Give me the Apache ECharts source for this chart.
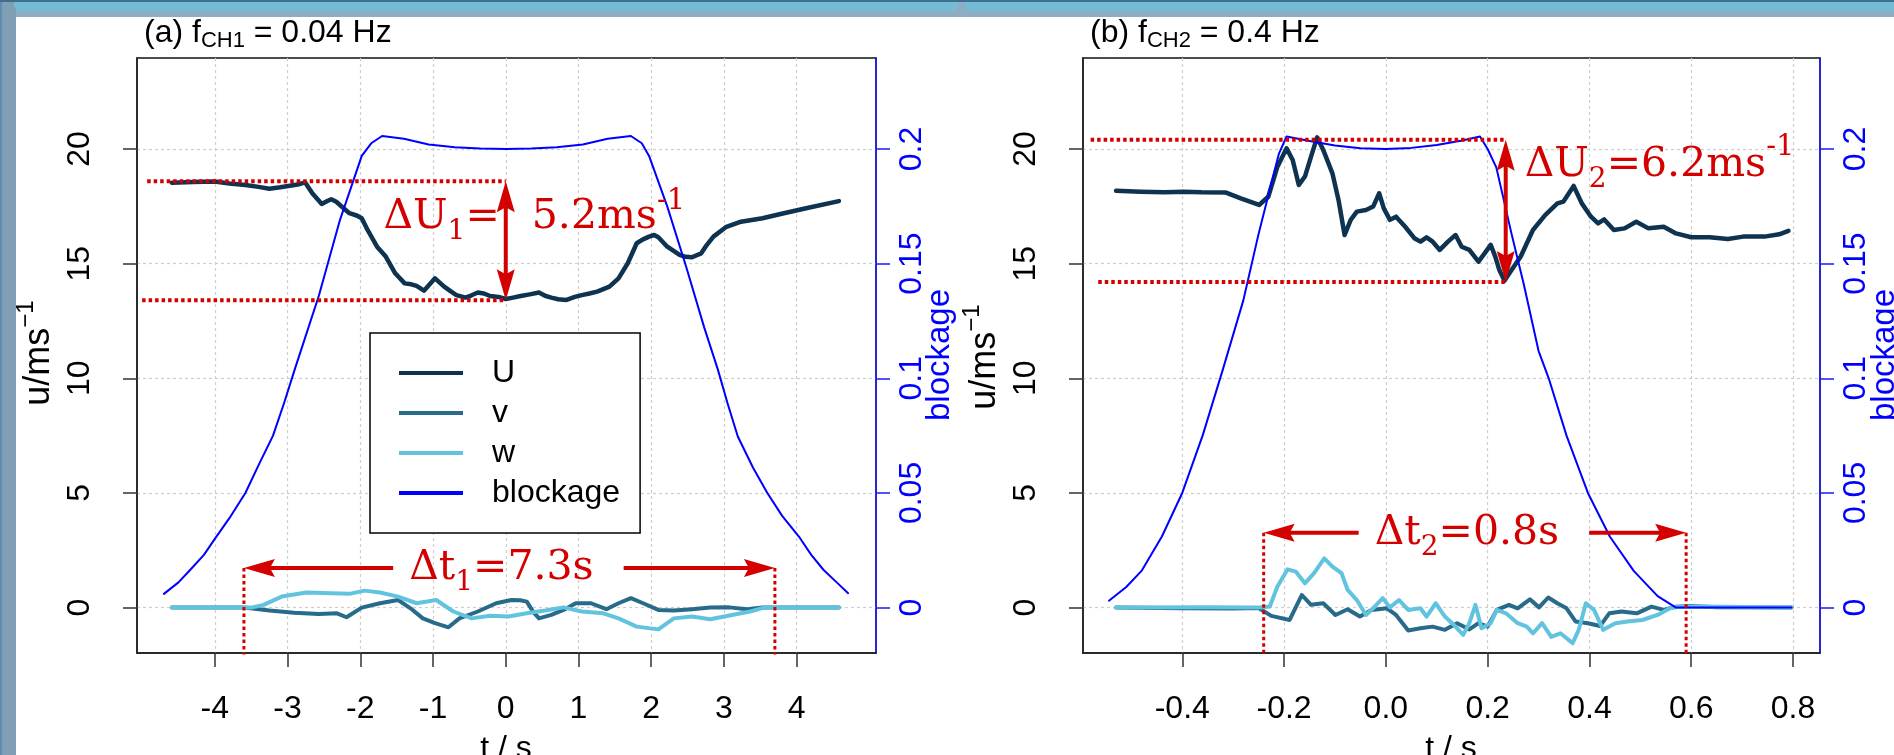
<!DOCTYPE html>
<html>
<head>
<meta charset="utf-8">
<script src="https://cdn.jsdelivr.net/npm/echarts@6/dist/echarts.min.js"></script>
<style>
  html, body { margin: 0; padding: 0; background: #ffffff; }
  #chart { width: 1894px; height: 755px; }
</style>
</head>
<body>
<div id="chart"></div>
<script>
// ---------------- tick values ----------------
const ticksTA = [-4, -3, -2, -1, 0, 1, 2, 3, 4];
const ticksTB = [-0.4, -0.2, 0, 0.2, 0.4, 0.6, 0.8];
const ticksU = [0, 5, 10, 15, 20];
const ticksBlock = [0, 0.05, 0.1, 0.15, 0.2];

// ---------------- panel (a): f_CH1 = 0.04 Hz ----------------
// [t / s, velocity / m s^-1]
const uA = [[-4.59,18.53],[-4.3,18.56],[-4.0,18.58],[-3.8,18.5],[-3.58,18.43],[-3.4,18.35],[-3.25,18.27],[-3.1,18.33],[-2.99,18.39],[-2.86,18.45],[-2.76,18.55],[-2.66,18.07],[-2.53,17.6],[-2.46,17.72],[-2.40,17.81],[-2.33,17.7],[-2.28,17.56],[-2.15,17.2],[-2.05,17.1],[-1.98,16.98],[-1.90,16.47],[-1.77,15.74],[-1.65,15.31],[-1.52,14.58],[-1.39,14.14],[-1.30,14.1],[-1.226,14.03],[-1.125,13.82],[-0.973,14.36],[-0.847,14.0],[-0.76,13.8],[-0.679,13.63],[-0.553,13.52],[-0.47,13.62],[-0.384,13.74],[-0.30,13.7],[-0.216,13.59],[-0.1,13.55],[0,13.46],[0.1,13.52],[0.205,13.59],[0.33,13.66],[0.457,13.74],[0.54,13.6],[0.626,13.52],[0.72,13.45],[0.836,13.42],[0.95,13.55],[1.046,13.63],[1.15,13.7],[1.256,13.78],[1.35,13.9],[1.425,14.0],[1.55,14.36],[1.677,15.02],[1.80,15.89],[1.88,16.05],[1.97,16.18],[2.04,16.25],[2.098,16.15],[2.22,15.74],[2.39,15.38],[2.47,15.3],[2.56,15.28],[2.687,15.45],[2.76,15.8],[2.855,16.18],[3.024,16.59],[3.234,16.83],[3.529,16.98],[3.823,17.2],[4.16,17.44],[4.58,17.73]];
const vA = [[-4.59,0],[-3.6,0],[-3.45,-0.05],[-3.25,-0.13],[-2.91,-0.22],[-2.57,-0.28],[-2.32,-0.25],[-2.19,-0.42],[-1.98,0],[-1.73,0.19],[-1.48,0.33],[-1.31,-0.03],[-1.14,-0.47],[-0.973,-0.68],[-0.788,-0.86],[-0.637,-0.47],[-0.384,-0.17],[-0.132,0.19],[0.078,0.33],[0.20,0.32],[0.289,0.26],[0.38,-0.2],[0.457,-0.47],[0.626,-0.32],[0.794,-0.10],[0.962,0.19],[1.172,0.19],[1.383,-0.07],[1.55,0.19],[1.72,0.41],[1.888,0.19],[2.098,-0.10],[2.31,-0.13],[2.56,-0.07],[2.81,0],[3.07,0.01],[3.32,-0.07],[3.53,0],[4.58,0]];
const wA = [[-4.59,0],[-3.5,0],[-3.33,0.12],[-3.08,0.48],[-2.74,0.66],[-2.40,0.63],[-2.15,0.60],[-1.94,0.74],[-1.73,0.66],[-1.48,0.48],[-1.226,0.19],[-0.957,0.33],[-0.721,-0.17],[-0.468,-0.47],[-0.216,-0.36],[0.036,-0.39],[0.289,-0.25],[0.542,-0.13],[0.794,0.01],[1.046,-0.17],[1.34,-0.25],[1.55,-0.47],[1.80,-0.83],[2.098,-0.95],[2.31,-0.47],[2.56,-0.39],[2.81,-0.51],[3.11,-0.32],[3.36,-0.17],[3.55,0],[4.58,0]];
// [t / s, blockage]
const blockA = [[-4.7,0.006],[-4.5,0.011],[-4.34,0.0164],[-4.15,0.023],[-4.0,0.030],[-3.8,0.039],[-3.58,0.050],[-3.4,0.062],[-3.2,0.075],[-3.05,0.089],[-2.9,0.104],[-2.57,0.136],[-2.28,0.169],[-1.98,0.197],[-1.85,0.2025],[-1.7,0.2057],[-1.4,0.2045],[-1.06,0.2020],[-0.7,0.2008],[-0.35,0.2002],[0,0.2000],[0.35,0.2002],[0.7,0.2008],[1.06,0.2020],[1.4,0.2045],[1.72,0.2057],[1.87,0.2025],[1.97,0.197],[2.22,0.175],[2.477,0.149],[2.73,0.122],[2.914,0.104],[3.05,0.089],[3.19,0.0746],[3.4,0.061],[3.596,0.05],[3.8,0.040],[4.03,0.031],[4.2,0.023],[4.37,0.0164],[4.55,0.011],[4.707,0.0063]];

// ---------------- panel (b): f_CH2 = 0.4 Hz ----------------
const uB = [[-0.53,18.18],[-0.482,18.14],[-0.434,18.11],[-0.398,18.14],[-0.362,18.11],[-0.314,18.10],[-0.285,17.85],[-0.249,17.56],[-0.231,17.92],[-0.213,19.23],[-0.195,20.03],[-0.183,19.52],[-0.171,18.43],[-0.159,18.80],[-0.145,19.81],[-0.135,20.51],[-0.123,19.96],[-0.105,18.94],[-0.093,17.78],[-0.081,16.25],[-0.069,16.91],[-0.057,17.27],[-0.039,17.34],[-0.025,17.49],[-0.013,18.07],[-0.004,17.41],[0.008,16.91],[0.020,17.05],[0.038,16.61],[0.056,16.11],[0.068,15.96],[0.080,16.15],[0.092,15.96],[0.106,15.60],[0.122,15.96],[0.137,16.25],[0.149,15.74],[0.164,15.60],[0.182,15.09],[0.194,15.45],[0.206,15.82],[0.215,15.31],[0.223,14.72],[0.233,14.26],[0.247,14.72],[0.265,15.31],[0.289,16.47],[0.313,17.12],[0.337,17.63],[0.349,17.71],[0.369,18.39],[0.385,17.63],[0.403,17.05],[0.417,16.76],[0.429,16.93],[0.448,16.47],[0.469,16.54],[0.492,16.83],[0.516,16.54],[0.546,16.61],[0.570,16.32],[0.600,16.15],[0.636,16.15],[0.672,16.08],[0.702,16.18],[0.744,16.18],[0.773,16.28],[0.791,16.43]];
const vB = [[-0.53,0],[-0.40,-0.03],[-0.30,-0.04],[-0.25,-0.02],[-0.225,-0.36],[-0.189,-0.54],[-0.165,0.55],[-0.147,0.12],[-0.123,0.19],[-0.099,-0.32],[-0.075,-0.07],[-0.051,-0.39],[-0.028,-0.10],[0.002,-0.03],[0.020,-0.32],[0.044,-1.0],[0.068,-0.90],[0.092,-0.83],[0.116,-0.97],[0.140,-0.68],[0.164,-0.95],[0.182,-0.68],[0.200,-0.83],[0.218,-0.10],[0.242,0.12],[0.259,-0.03],[0.283,0.36],[0.301,0.01],[0.319,0.44],[0.337,0.19],[0.355,-0.03],[0.373,-0.61],[0.397,-0.68],[0.421,-0.80],[0.439,-0.25],[0.463,-0.17],[0.493,-0.25],[0.522,0.04],[0.546,-0.10],[0.570,0.04],[0.600,0.07],[0.65,0.02],[0.797,0]];
const wB = [[-0.53,0],[-0.35,0.02],[-0.25,0],[-0.228,0.05],[-0.213,0.92],[-0.193,1.67],[-0.177,1.57],[-0.159,1.06],[-0.141,1.50],[-0.121,2.15],[-0.105,1.79],[-0.087,1.50],[-0.075,0.77],[-0.057,0.33],[-0.039,-0.32],[-0.022,0.04],[-0.006,0.41],[0.008,0.01],[0.026,0.33],[0.044,-0.10],[0.068,-0.03],[0.080,-0.39],[0.098,0.19],[0.116,-0.39],[0.134,-0.76],[0.152,-1.19],[0.164,-0.68],[0.176,0.12],[0.188,-0.90],[0.206,-0.68],[0.218,-0.10],[0.236,-0.25],[0.259,-0.68],[0.277,-0.83],[0.289,-1.12],[0.307,-0.68],[0.325,-1.28],[0.343,-1.12],[0.367,-1.55],[0.379,-0.97],[0.393,0.19],[0.409,-0.10],[0.427,-0.97],[0.451,-0.68],[0.475,-0.61],[0.504,-0.54],[0.534,-0.32],[0.558,-0.03],[0.576,0.04],[0.62,0.05],[0.797,0]];
const blockB = [[-0.544,0.003],[-0.51,0.009],[-0.48,0.016],[-0.44,0.031],[-0.40,0.050],[-0.36,0.075],[-0.32,0.104],[-0.28,0.134],[-0.25,0.163],[-0.225,0.185],[-0.21,0.198],[-0.195,0.2055],[-0.15,0.2035],[-0.10,0.2015],[-0.05,0.2003],[0,0.2000],[0.05,0.2005],[0.10,0.2018],[0.15,0.2037],[0.185,0.2055],[0.20,0.200],[0.217,0.192],[0.247,0.163],[0.271,0.141],[0.30,0.112],[0.32,0.100],[0.355,0.075],[0.397,0.050],[0.44,0.031],[0.487,0.016],[0.534,0.005],[0.57,0.000],[0.797,0.000]];

// ---------------- annotations ----------------
// velocity drop: [t of arrow, upper U, lower U, start t of upper guide, start t of lower guide]
const deltaUA = [0, 18.6, 13.4, -4.93, -5.0];
const deltaUB = [0.2355, 20.4, 14.2, -0.58, -0.565];
// passage duration: [start t, end t, velocity level of the arrow]
const deltaTA = [-3.6, 3.7, 1.73];
const deltaTB = [-0.24, 0.59, 3.26];

// ---------------- styling ----------------
const SANS = '"Liberation Sans", Arial, Helvetica, sans-serif';
const SERIF = '"DejaVu Serif", serif';
const RED = '#d40000';
const COL = { U: '#0e3350', v: '#276a89', w: '#62c3df', blockage: '#0000ff' };
const BLUE_AXIS = '#1a1aff';

const measureCtx = document.createElement('canvas').getContext('2d');
function textWidth(s, font) { measureCtx.font = font; return measureCtx.measureText(s).width; }

// Lay out a run of text pieces on one baseline; pieces are [text, size, baselineShift]
function textRun(pieces, x, baseline, align, family, color) {
  const items = pieces.map(p => {
    const font = p[1] + 'px ' + family;
    return { s: p[0], size: p[1], dy: p[2] || 0, font, w: textWidth(p[0], font) };
  });
  const total = items.reduce((a, it) => a + it.w, 0);
  let cx = align === 'center' ? x - total / 2 : (align === 'right' ? x - total : x);
  const els = items.map(it => {
    const el = {
      type: 'text', x: cx, y: baseline + it.dy - 0.35 * it.size,
      style: { text: it.s, font: it.font, fill: color, align: 'left', verticalAlign: 'middle' }
    };
    cx += it.w;
    return el;
  });
  return { els, total };
}

function arrowHead(tip, dx, dy) {
  const L = 31, W = 9, N = 5;
  const nx = -dy, ny = dx;
  return {
    type: 'polygon',
    shape: { points: [
      tip,
      [tip[0] - dx * L + nx * W, tip[1] - dy * L + ny * W],
      [tip[0] - dx * (L - N), tip[1] - dy * (L - N)],
      [tip[0] - dx * L - nx * W, tip[1] - dy * L - ny * W]
    ] },
    style: { fill: RED }
  };
}

function dotted(p1, p2, w) {
  return { type: 'line', shape: { x1: p1[0], y1: p1[1], x2: p2[0], y2: p2[1] },
           style: { stroke: RED, lineWidth: w, lineDash: [3.5, 3] } };
}

function solid(p1, p2) {
  return { type: 'line', shape: { x1: p1[0], y1: p1[1], x2: p2[0], y2: p2[1] },
           style: { stroke: RED, lineWidth: 4 } };
}

// Vertical double arrow with guide lines and the ΔU label
function deltaUGroup(api, d, idx, layout) {
  const [t, hi, lo, hiFrom, loFrom] = d;
  const pHi = api.coord([t, hi]), pLo = api.coord([t, lo]);
  const children = [
    dotted(api.coord([hiFrom, hi]), pHi, 4),
    dotted(api.coord([loFrom, lo]), pLo, 4),
    solid([pHi[0], pHi[1] + 20], [pLo[0], pLo[1] - 20]),
    arrowHead(pHi, 0, -1),
    arrowHead(pLo, 0, 1)
  ];
  const val = (hi - lo).toFixed(1);
  const mid = (pHi[1] + pLo[1]) / 2;
  const base = mid + layout.baseShift;
  if (layout.split) {
    const left = textRun([['\u0394U', 41], [idx, 28, 10], ['=', 41]], pHi[0] - 6, base, 'right', SERIF, RED);
    const right = textRun([[val + 'ms', 41], ['-1', 29, -20]], pHi[0] + 26, base, 'left', SERIF, RED);
    children.push(...left.els, ...right.els);
  } else {
    const run = textRun([['\u0394U', 41], [idx, 28, 10], ['=' + val + 'ms', 41], ['-1', 29, -22]], pHi[0] + 19, base, 'left', SERIF, RED);
    children.push(...run.els);
  }
  return { type: 'group', children };
}

// Horizontal double arrow with vertical guides and the Δt label
function deltaTGroup(api, d, idx, yBottom) {
  const [t0, t1, level] = d;
  const p0 = api.coord([t0, level]), p1 = api.coord([t1, level]);
  const val = (t1 - t0).toFixed(1);
  const cx = (p0[0] + p1[0]) / 2 - 8;
  const run = textRun([['\u0394t', 41], [idx, 28, 10], ['=' + val + 's', 41]], cx, p0[1] + 15, 'center', SERIF, RED);
  const tl = cx - run.total / 2, tr = cx + run.total / 2;
  const children = [
    dotted(p0, api.coord([t0, yBottom]), 3),
    dotted(p1, api.coord([t1, yBottom]), 3),
    solid([p0[0] + 20, p0[1]], [tl - 16, p0[1]]),
    solid([tr + 30, p1[1]], [p1[0] - 20, p1[1]]),
    arrowHead(p0, -1, 0),
    arrowHead(p1, 1, 0),
    ...run.els
  ];
  return { type: 'group', children };
}

// ---------------- axes ----------------
const GRID_Y = { top: 58, height: 595 };
const U_RANGE = [-1.98, 23.97];
const B_RANGE = [-0.0198, 0.2397];
const gridLine = { show: true, lineStyle: { color: '#cfcfcf', width: 1.2, type: [3, 3] } };

function xAxis(gridIndex, min, max, ticks, fmt) {
  return {
    type: 'value', gridIndex, min, max,
    axisLine: { show: true, onZero: false, lineStyle: { color: '#222', width: 1.5 } },
    axisTick: { show: true, inside: false, length: 14, customValues: ticks, lineStyle: { color: '#333', width: 1.5 } },
    axisLabel: { customValues: ticks, formatter: fmt, margin: 40, fontSize: 32, fontFamily: SANS, color: '#000' },
    splitLine: gridLine
  };
}
function yLeft(gridIndex) {
  return {
    type: 'value', gridIndex, position: 'left', min: U_RANGE[0], max: U_RANGE[1],
    axisLine: { show: true, onZero: false, lineStyle: { color: '#222', width: 1.5 } },
    axisTick: { show: true, inside: false, length: 14, customValues: ticksU, lineStyle: { color: '#333', width: 1.5 } },
    axisLabel: { customValues: ticksU, rotate: 90, margin: 41, fontSize: 32, fontFamily: SANS, color: '#000', formatter: v => String(v) },
    splitLine: gridLine
  };
}
function yRight(gridIndex) {
  return {
    type: 'value', gridIndex, position: 'right', min: B_RANGE[0], max: B_RANGE[1],
    axisLine: { show: true, onZero: false, lineStyle: { color: BLUE_AXIS, width: 1.5 } },
    axisTick: { show: true, inside: false, length: 14, customValues: ticksBlock, lineStyle: { color: BLUE_AXIS, width: 1.5 } },
    axisLabel: { customValues: ticksBlock, rotate: 90, margin: 20, fontSize: 32, fontFamily: SANS, color: '#0000ff', formatter: v => String(v) },
    splitLine: { show: false }
  };
}

function lineSeries(name, data, xi, yi, width) {
  return {
    type: 'line', name, data, xAxisIndex: xi, yAxisIndex: yi,
    showSymbol: false, symbol: 'none', color: COL[name],
    lineStyle: { color: COL[name], width, join: 'round', cap: 'round' }, itemStyle: { color: COL[name] },
    animation: false, clip: true, z: 3
  };
}

// ---------------- page decoration and titles ----------------
function titleRun(label, sub, rest, x) {
  return { type: 'group', children: textRun([[label, 32], [sub, 22, 5], [rest, 32]], x, 44, 'left', SANS, '#000').els };
}
// y-axis titles (rotated, reading upwards)
function yTitle(baselineX, centerY) {
  const run = textRun([['u/ms', 36], ['\u22121', 24, -17]], 0, 0, 'center', SANS, '#000');
  return { type: 'group', x: baselineX, y: centerY, rotation: Math.PI / 2, children: run.els };
}
function blockTitle(baselineX, centerY) {
  const run = textRun([['blockage', 33]], 0, 0, 'center', SANS, '#0000ff');
  return { type: 'group', x: baselineX, y: centerY, rotation: Math.PI / 2, children: run.els };
}

const graphics = [
  // slide frame
  { type: 'rect', shape: { x: 0, y: 0, width: 1894, height: 17 }, style: { fill: '#8eacc2' }, z: 1 },
  { type: 'rect', shape: { x: 14, y: 0, width: 944, height: 11, r: [0, 0, 6, 6] }, style: { fill: '#74bcd6' }, z: 2 },
  { type: 'rect', shape: { x: 965, y: 0, width: 929, height: 11, r: [0, 0, 0, 6] }, style: { fill: '#74bcd6' }, z: 2 },
  { type: 'rect', shape: { x: 0, y: 0, width: 1894, height: 2 }, style: { fill: '#3f6f8d' }, z: 3 },
  { type: 'rect', shape: { x: 0, y: 0, width: 16, height: 755 }, style: { fill: '#809fb5' }, z: 1 },
  { type: 'rect', shape: { x: 0, y: 0, width: 2, height: 755 }, style: { fill: '#5d8db0' }, z: 2 },
  // panel titles
  titleRun('(a) f', 'CH1', ' = 0.04 Hz', 144),
  titleRun('(b) f', 'CH2', ' = 0.4 Hz', 1090),
  // x-axis titles
  { type: 'group', children: textRun([['t / s', 32]], 506, 760, 'center', SANS, '#000').els },
  { type: 'group', children: textRun([['t / s', 32]], 1451, 760, 'center', SANS, '#000').els },
  yTitle(52, 353), yTitle(998, 357),
  blockTitle(951, 355), blockTitle(1896, 355)
];

// ---------------- chart ----------------
const chart = echarts.init(document.getElementById('chart'), null, { renderer: 'canvas' });
chart.setOption({
  animation: false,
  backgroundColor: '#ffffff',
  textStyle: { fontFamily: SANS },
  grid: [
    { left: 137, top: GRID_Y.top, width: 739, height: GRID_Y.height, show: true, borderColor: '#111', borderWidth: 1.5, backgroundColor: 'transparent', outerBoundsMode: 'none' },
    { left: 1083, top: GRID_Y.top, width: 737, height: GRID_Y.height, show: true, borderColor: '#111', borderWidth: 1.5, backgroundColor: 'transparent', outerBoundsMode: 'none' }
  ],
  xAxis: [
    xAxis(0, -5.07, 5.09, ticksTA, v => String(v)),
    xAxis(1, -0.595, 0.853, ticksTB, v => v.toFixed(1))
  ],
  yAxis: [yLeft(0), yRight(0), yLeft(1), yRight(1)],
  legend: {
    show: true, orient: 'vertical', left: 370, top: 333,
    padding: [20, 20, 20, 29], itemWidth: 64, itemHeight: 4, itemGap: 0, icon: 'rect',
    backgroundColor: '#ffffff', borderColor: '#000', borderWidth: 1.5, borderRadius: 0,
    textStyle: { fontSize: 32, fontFamily: SANS, color: '#000', lineHeight: 40, padding: [0, 0, 0, 24] },
    data: ['U', 'v', 'w', 'blockage'], selectedMode: false, z: 20
  },
  graphic: graphics,
  series: [
    lineSeries('U', uA, 0, 0, 4.5),
    lineSeries('v', vA, 0, 0, 4),
    lineSeries('w', wA, 0, 0, 4),
    lineSeries('blockage', blockA, 0, 1, 2),
    lineSeries('U', uB, 1, 2, 4.5),
    lineSeries('v', vB, 1, 2, 4),
    lineSeries('w', wB, 1, 2, 4),
    lineSeries('blockage', blockB, 1, 3, 2),
    {
      type: 'custom', name: 'annotations-a', xAxisIndex: 0, yAxisIndex: 0, data: [[0, 0]],
      silent: true, clip: false, z: 10, animation: false,
      renderItem: (p, api) => ({ type: 'group', children: [
        deltaUGroup(api, deltaUA, '1', { split: true, baseShift: -9 }),
        deltaTGroup(api, deltaTA, '1', -2.05)
      ] })
    },
    {
      type: 'custom', name: 'annotations-b', xAxisIndex: 1, yAxisIndex: 2, data: [[0, 0]],
      silent: true, clip: false, z: 10, animation: false,
      renderItem: (p, api) => ({ type: 'group', children: [
        deltaUGroup(api, deltaUB, '2', { split: false, baseShift: -31 }),
        deltaTGroup(api, deltaTB, '2', -2.05)
      ] })
    }
  ]
});
</script>
</body>
</html>
